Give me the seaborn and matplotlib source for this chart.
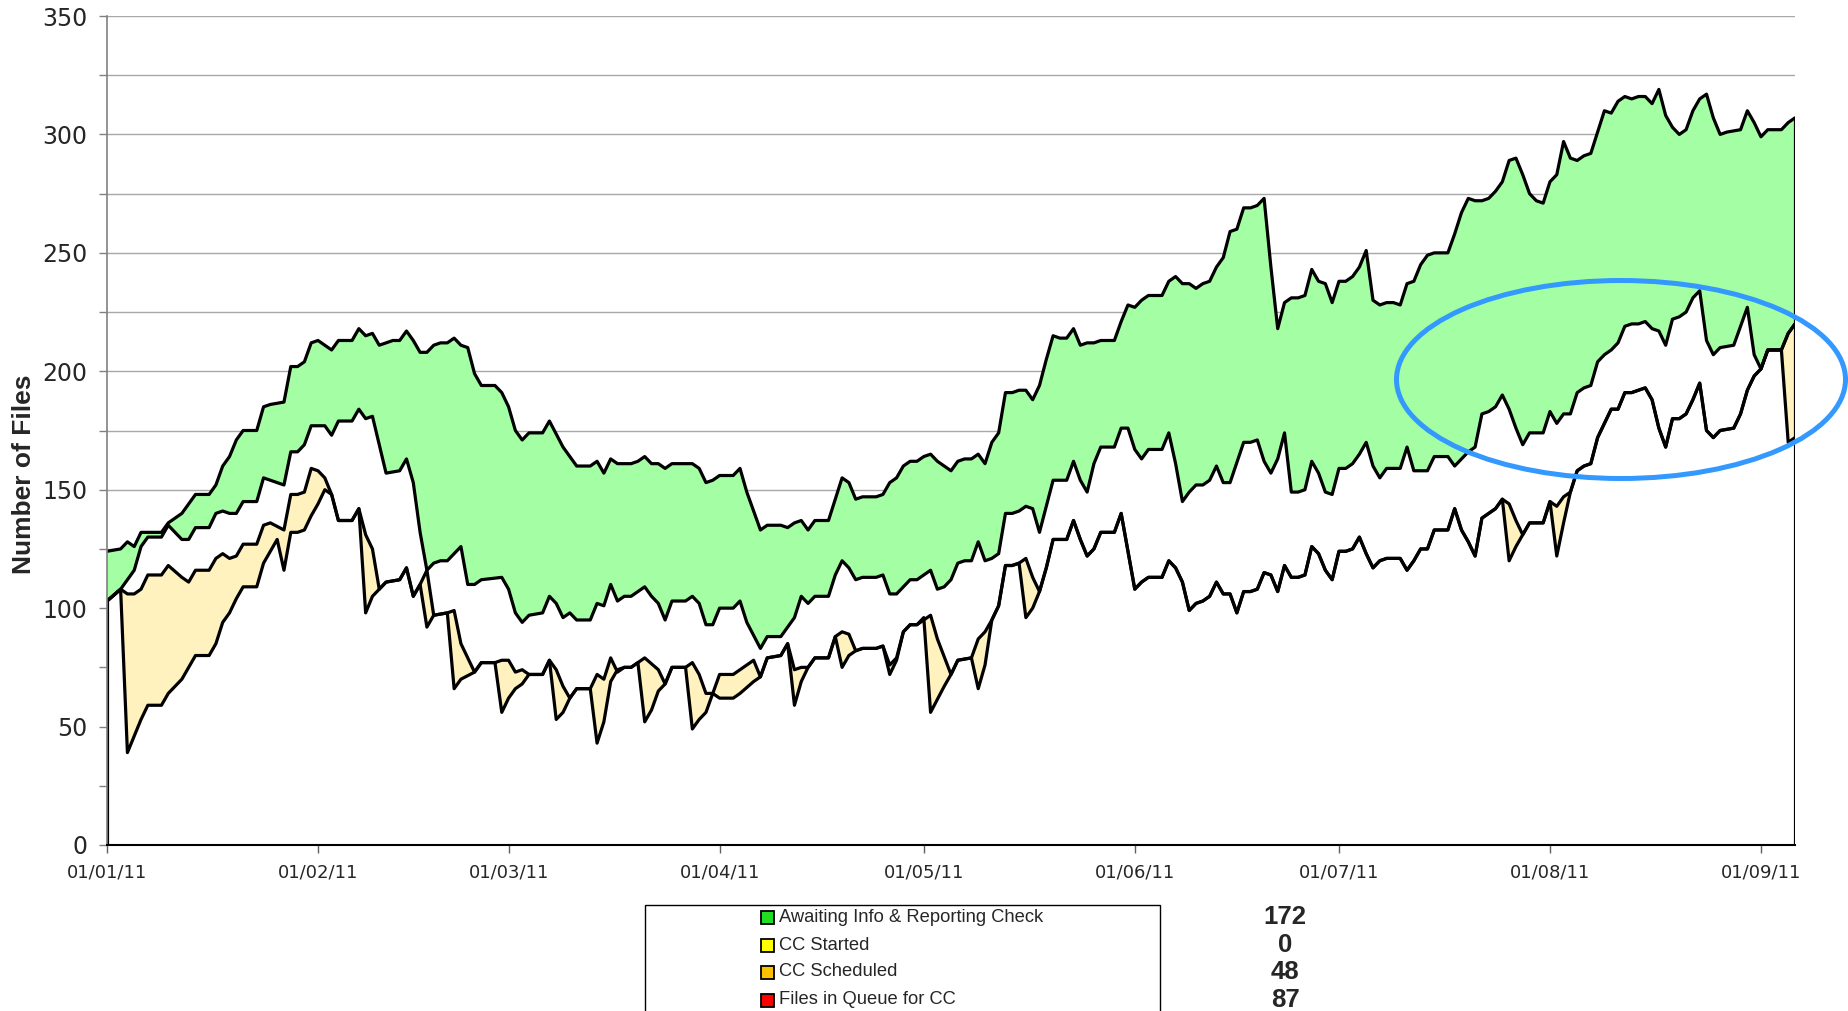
import numpy as np
import pandas as pd
import matplotlib
matplotlib.use("Agg")
import matplotlib.pyplot as plt
import matplotlib.dates as mdates
from matplotlib.ticker import MultipleLocator
from matplotlib.patches import Ellipse, Rectangle
from matplotlib import font_manager
import seaborn as sns

# ---------------- data (day offset from start_date, number of files) ----------------
start_date = "2011-01-01"
end_day = 248

# top of the green band (cumulative total)
top_line = [(0,124),(2,125),(3,128),(4,126),(5,132),(6,132),(8,132),(9,136),(11,140),(12,144),(13,148),(15,148),(16,152),(17,160),(18,164),(19,171),(20,175),(22,175),(23,185),(24,186),(26,187),(27,202),(28,202),(29,204),(30,212),(31,213),(32,211),(33,209),(34,213),(36,213),(37,218),(38,215),(39,216),(40,211),(42,213),(43,213),(44,217),(45,213),(46,208),(47,208),(48,211),(49,212),(50,212),(51,214),(52,211),(53,210),(54,199),(55,194),(57,194),(58,191),(59,185),(60,175),(61,171),(62,174),(64,174),(65,179),(67,168),(68,164),(69,160),(71,160),(72,162),(73,157),(74,163),(75,161),(77,161),(78,162),(79,164),(80,161),(81,161),(82,159),(83,161),(86,161),(87,159),(88,153),(89,154),(90,156),(92,156),(93,159),(94,149),(96,133),(97,135),(99,135),(100,134),(101,136),(102,137),(103,133),(104,137),(106,137),(107,146),(108,155),(109,153),(110,146),(111,147),(113,147),(114,148),(115,153),(116,155),(117,160),(118,162),(119,162),(120,164),(121,165),(122,162),(123,160),(124,158),(125,162),(126,163),(127,163),(128,165),(129,161),(130,170),(131,174),(132,191),(133,191),(134,192),(135,192),(136,188),(137,194),(138,205),(139,215),(140,214),(141,214),(142,218),(143,211),(144,212),(145,212),(146,213),(148,213),(149,221),(150,228),(151,227),(152,230),(153,232),(155,232),(156,238),(157,240),(158,237),(159,237),(160,235),(161,237),(162,238),(163,244),(164,248),(165,259),(166,260),(167,269),(168,269),(169,270),(170,273),(171,244),(172,218),(173,229),(174,231),(175,231),(176,232),(177,243),(178,238),(179,237),(180,229),(181,238),(182,238),(183,240),(184,244),(185,251),(186,230),(187,228),(188,229),(189,229),(190,228),(191,237),(192,238),(193,245),(194,249),(195,250),(197,250),(198,258),(199,267),(200,273),(201,272),(202,272),(203,273),(204,276),(205,280),(206,289),(207,290),(208,283),(209,275),(210,272),(211,271),(212,280),(213,283),(214,297),(215,290),(216,289),(217,291),(218,292),(219,301),(220,310),(221,309),(222,314),(223,316),(224,315),(225,316),(226,316),(227,313),(228,319),(229,308),(230,303),(231,300),(232,302),(233,310),(234,315),(235,317),(236,307),(237,300),(238,301),(240,302),(241,310),(242,305),(243,299),(244,302),(246,302),(247,305),(248,307)]

# bottom of the green band
green_base = [(0,103),(2,108),(4,116),(5,126),(6,130),(8,130),(9,135),(10,132),(11,129),(12,129),(13,134),(15,134),(16,140),(17,141),(18,140),(19,140),(20,145),(22,145),(23,155),(24,154),(26,152),(27,166),(28,166),(29,169),(30,177),(31,177),(32,177),(33,173),(34,179),(36,179),(37,184),(38,180),(39,181),(40,169),(41,157),(43,158),(44,163),(45,153),(46,132),(47,116),(48,119),(49,120),(50,120),(51,123),(52,126),(53,110),(54,110),(55,112),(58,113),(59,108),(60,98),(61,94),(62,97),(64,98),(65,105),(66,102),(67,96),(68,98),(69,95),(71,95),(72,102),(73,101),(74,110),(75,103),(76,105),(77,105),(78,107),(79,109),(80,105),(81,102),(82,95),(83,103),(85,103),(86,105),(87,102),(88,93),(89,93),(90,100),(92,100),(93,103),(94,94),(96,83),(97,88),(99,88),(100,92),(101,96),(102,105),(103,102),(104,105),(106,105),(107,114),(108,120),(109,117),(110,112),(111,113),(113,113),(114,114),(115,106),(116,106),(117,109),(118,112),(119,112),(121,116),(122,108),(123,109),(124,112),(125,119),(126,120),(127,120),(128,128),(129,120),(130,121),(131,123),(132,140),(133,140),(134,141),(135,143),(136,142),(137,132),(138,143),(139,154),(141,154),(142,162),(143,154),(144,149),(145,161),(146,168),(148,168),(149,176),(150,176),(151,167),(152,163),(153,167),(155,167),(156,174),(157,161),(158,145),(159,149),(160,152),(161,152),(162,154),(163,160),(164,153),(165,153),(167,170),(168,170),(169,171),(170,162),(171,157),(172,163),(173,174),(174,149),(175,149),(176,150),(177,162),(178,157),(179,149),(180,148),(181,159),(182,159),(183,161),(184,165),(185,170),(186,160),(187,155),(188,159),(190,159),(191,168),(192,158),(194,158),(195,164),(197,164),(198,160),(199,163),(200,166),(201,168),(202,182),(203,183),(204,185),(205,190),(206,184),(207,176),(208,169),(209,174),(211,174),(212,183),(213,178),(214,182),(215,182),(216,191),(217,193),(218,194),(219,204),(220,207),(221,209),(222,212),(223,219),(224,220),(225,220),(226,221),(227,218),(228,217),(229,211),(230,222),(231,223),(232,225),(233,231),(234,234),(235,213),(236,207),(237,210),(239,211),(241,227),(242,207),(243,201),(244,209),(246,209),(247,216),(248,220)]

# top of the yellow band
yellow_top = [(0,103),(2,108),(3,106),(4,106),(5,108),(6,114),(8,114),(9,118),(11,113),(12,111),(13,116),(15,116),(16,121),(17,123),(18,121),(19,122),(20,127),(22,127),(23,135),(24,136),(26,133),(27,148),(28,148),(29,149),(30,159),(31,158),(32,155),(33,148),(34,137),(36,137),(37,142),(38,131),(39,125),(40,108),(41,111),(43,112),(44,117),(45,105),(46,110),(47,116),(48,97),(50,98),(51,99),(52,85),(54,73),(55,77),(57,77),(58,78),(59,78),(60,73),(61,74),(62,72),(64,72),(65,78),(66,74),(67,67),(68,62),(69,66),(71,66),(72,72),(73,70),(74,79),(75,73),(76,75),(77,75),(78,77),(79,79),(81,74),(82,68),(83,75),(85,75),(86,77),(87,72),(88,64),(89,64),(90,72),(92,72),(93,74),(95,78),(96,71),(97,79),(99,80),(100,85),(101,74),(102,75),(103,75),(104,79),(106,79),(107,88),(108,90),(109,89),(110,82),(111,83),(113,83),(114,84),(115,76),(116,79),(117,90),(118,93),(119,93),(121,97),(122,87),(124,72),(125,78),(127,79),(128,87),(129,90),(130,95),(131,101),(132,118),(133,118),(134,119),(135,121),(136,113),(137,107),(138,117),(139,129),(141,129),(142,137),(143,129),(144,122),(145,125),(146,132),(148,132),(149,140),(150,124),(151,108),(152,111),(153,113),(155,113),(156,120),(157,117),(158,111),(159,99),(160,102),(161,103),(162,105),(163,111),(164,106),(165,106),(166,98),(167,107),(168,107),(169,108),(170,115),(171,114),(172,107),(173,118),(174,113),(175,113),(176,114),(177,126),(178,123),(179,116),(180,112),(181,124),(182,124),(183,125),(184,130),(185,123),(186,117),(187,120),(188,121),(190,121),(191,116),(192,120),(193,125),(194,125),(195,133),(197,133),(198,142),(199,133),(200,128),(201,122),(202,138),(203,140),(204,142),(205,146),(206,144),(207,137),(208,131),(209,136),(211,136),(212,145),(213,143),(214,147),(215,149),(216,158),(217,160),(218,161),(219,172),(220,178),(221,184),(222,184),(223,191),(224,191),(225,192),(226,193),(227,188),(228,176),(229,168),(230,180),(231,180),(232,182),(233,188),(234,195),(235,175),(236,172),(237,175),(239,176),(240,182),(241,192),(242,198),(243,201),(244,209),(246,209),(247,216),(248,220)]

# bottom of the yellow band
yellow_base = [(0,103),(2,108),(3,39),(4,46),(5,53),(6,59),(8,59),(9,64),(11,70),(12,75),(13,80),(15,80),(16,85),(17,94),(18,98),(19,104),(20,109),(22,109),(23,119),(24,124),(25,129),(26,116),(27,132),(28,132),(29,133),(30,139),(31,144),(32,150),(33,148),(34,137),(36,137),(37,142),(38,98),(39,105),(40,108),(41,111),(43,112),(44,117),(45,105),(46,110),(47,92),(48,97),(50,98),(51,66),(52,70),(54,73),(55,77),(57,77),(58,56),(59,62),(60,66),(61,68),(62,72),(64,72),(65,78),(66,53),(67,56),(68,62),(69,66),(71,66),(72,43),(73,52),(74,69),(75,74),(76,75),(77,75),(78,77),(79,52),(80,57),(81,65),(82,68),(83,75),(85,75),(86,49),(87,53),(88,56),(89,64),(90,62),(92,62),(93,64),(95,69),(96,71),(97,79),(99,80),(100,85),(101,59),(102,69),(103,75),(104,79),(106,79),(107,88),(108,75),(109,80),(110,82),(111,83),(113,83),(114,84),(115,72),(116,78),(117,90),(118,93),(119,93),(120,96),(121,56),(123,67),(124,72),(125,78),(127,79),(128,66),(129,76),(130,95),(131,101),(132,118),(133,118),(134,119),(135,96),(136,100),(137,107),(138,117),(139,129),(141,129),(142,137),(143,129),(144,122),(145,125),(146,132),(148,132),(149,140),(150,124),(151,108),(152,111),(153,113),(155,113),(156,120),(157,117),(158,111),(159,99),(160,102),(161,103),(162,105),(163,111),(164,106),(165,106),(166,98),(167,107),(168,107),(169,108),(170,115),(171,114),(172,107),(173,118),(174,113),(175,113),(176,114),(177,126),(178,123),(179,116),(180,112),(181,124),(182,124),(183,125),(184,130),(185,123),(186,117),(187,120),(188,121),(190,121),(191,116),(192,120),(193,125),(194,125),(195,133),(197,133),(198,142),(199,133),(200,128),(201,122),(202,138),(203,140),(204,142),(205,146),(206,120),(207,126),(208,131),(209,136),(211,136),(212,145),(213,122),(214,136),(215,149),(216,158),(217,160),(218,161),(219,172),(220,178),(221,184),(222,184),(223,191),(224,191),(225,192),(226,193),(227,188),(228,176),(229,168),(230,180),(231,180),(232,182),(233,188),(234,195),(235,175),(236,172),(237,175),(239,176),(240,182),(241,192),(242,198),(243,201),(244,209),(246,209),(247,170),(248,172)]

legend_labels = ["Awaiting Info & Reporting Check", "CC Started", "CC Scheduled", "Files in Queue for CC"]
legend_colors = ["#22DD22", "#FFFF00", "#FFC000", "#FF0000"]
latest_counts = ["172", "0", "48", "87"]

y_label = "Number of Files"

# ---------------- styling ----------------
sns.set_style("white")
plt.rcParams["font.family"] = ["DejaVu Sans"]
names = {f.name for f in font_manager.fontManager.ttflist}
narrow = "Liberation Sans Narrow" if "Liberation Sans Narrow" in names else "Liberation Sans"

GREEN_FILL = "#A4FFA4"
YELLOW_FILL = "#FFF2BF"
LW = 2.3
W, H = 1848, 1011

base = pd.Timestamp(start_date)


def to_xy(pairs):
    d = np.array([p[0] for p in pairs])
    v = np.array([p[1] for p in pairs], dtype=float)
    dates = base + pd.to_timedelta(d, unit="D")
    return dates, v


x4, y4 = to_xy(top_line)
x3, y3 = to_xy(green_base)
x2, y2 = to_xy(yellow_top)
x1, y1 = to_xy(yellow_base)

fig = plt.figure(figsize=(W / 100, H / 100), dpi=100)
ax = fig.add_axes([107 / W, 1 - 845 / H, (1795 - 107) / W, (845 - 16) / H])

# lines via seaborn
for xx, yy in [(x4, y4), (x3, y3), (x2, y2), (x1, y1)]:
    sns.lineplot(x=xx, y=yy, ax=ax, color="black", lw=LW, estimator=None,
                 sort=False, zorder=5)

n4, n3, n2, n1 = (mdates.date2num(x) for x in (x4, x3, x2, x1))
# white underlay hides the grid beneath the stack
ax.fill(np.concatenate([n4, [n4[-1], n4[0]]]), np.concatenate([y4, [0, 0]]),
        color="white", zorder=2, lw=0)
ax.fill(np.concatenate([n4, n3[::-1]]), np.concatenate([y4, y3[::-1]]),
        color=GREEN_FILL, zorder=3, lw=0)
ax.fill(np.concatenate([n2, n1[::-1]]), np.concatenate([y2, y1[::-1]]),
        color=YELLOW_FILL, zorder=3, lw=0)
ax.vlines([n4[-1]], 0, y4[-1], color="black", lw=LW, zorder=6)
ax.vlines([n1[0]], 0, y1[0], color="black", lw=LW, zorder=6)

ax.set_xlim(base, base + pd.Timedelta(days=end_day))
ax.set_ylim(0, 350)
ax.xaxis.set_major_locator(mdates.MonthLocator())
ax.xaxis.set_major_formatter(mdates.DateFormatter("%d/%m/%y"))
ax.yaxis.set_major_locator(MultipleLocator(50))
ax.yaxis.set_minor_locator(MultipleLocator(25))
ax.grid(True, axis="y", which="both", color="#A8A8A8", lw=1.0, zorder=0)
ax.grid(False, axis="x")
ax.set_axisbelow(True)
ax.set_xlabel("")
ax.set_ylabel("")

ax.tick_params(axis="y", which="major", direction="out", length=6, width=1,
               color="#808080", labelsize=17, pad=8, left=True)
ax.tick_params(axis="y", which="minor", direction="out", length=6, width=1,
               color="#808080", left=True)
ax.tick_params(axis="x", which="major", direction="out", length=6, width=1,
               color="#606060", labelsize=13, pad=7, bottom=True)

for s in ("top", "right"):
    ax.spines[s].set_visible(False)
ax.spines["left"].set_color("#808080")
ax.spines["left"].set_linewidth(1.2)
ax.spines["bottom"].set_color("black")
ax.spines["bottom"].set_linewidth(1.5)
ax.spines["left"].set_zorder(7)
ax.spines["bottom"].set_zorder(7)

fig.text(24 / W, 1 - 474 / H, y_label, rotation=90, ha="center", va="center",
         fontsize=19, fontweight="bold", family=[narrow, "DejaVu Sans"])

# blue highlight ellipse
fig.patches.append(Ellipse((1621 / W, 1 - 379.5 / H), 449 / W, 198 / H,
                           transform=fig.transFigure, fill=False,
                           edgecolor="#3399FF", lw=3.6, zorder=10))

# legend box (cut by the bottom edge)
fig.patches.append(Rectangle((645 / W, -0.05), (1160 - 645) / W, (1011 - 905) / H + 0.05,
                             transform=fig.transFigure, fill=False,
                             edgecolor="black", lw=1.0))
row_y = [917, 945, 972, 1000]
for lab, col, cnt, ry in zip(legend_labels, legend_colors, latest_counts, row_y):
    fig.patches.append(Rectangle(((768 - 7) / W, 1 - (ry + 7) / H), 13 / W, 13 / H,
                                 transform=fig.transFigure, facecolor=col,
                                 edgecolor="black", lw=1.3))
    fig.text(779 / W, 1 - ry / H, lab, ha="left", va="center", fontsize=13.2,
             family=["Liberation Sans", "DejaVu Sans"])
    fig.text(1285 / W, 1 - ry / H, cnt, ha="center", va="center", fontsize=18.5,
             fontweight="bold", family=[narrow, "DejaVu Sans"])

fig.savefig("out.png", dpi=100)
